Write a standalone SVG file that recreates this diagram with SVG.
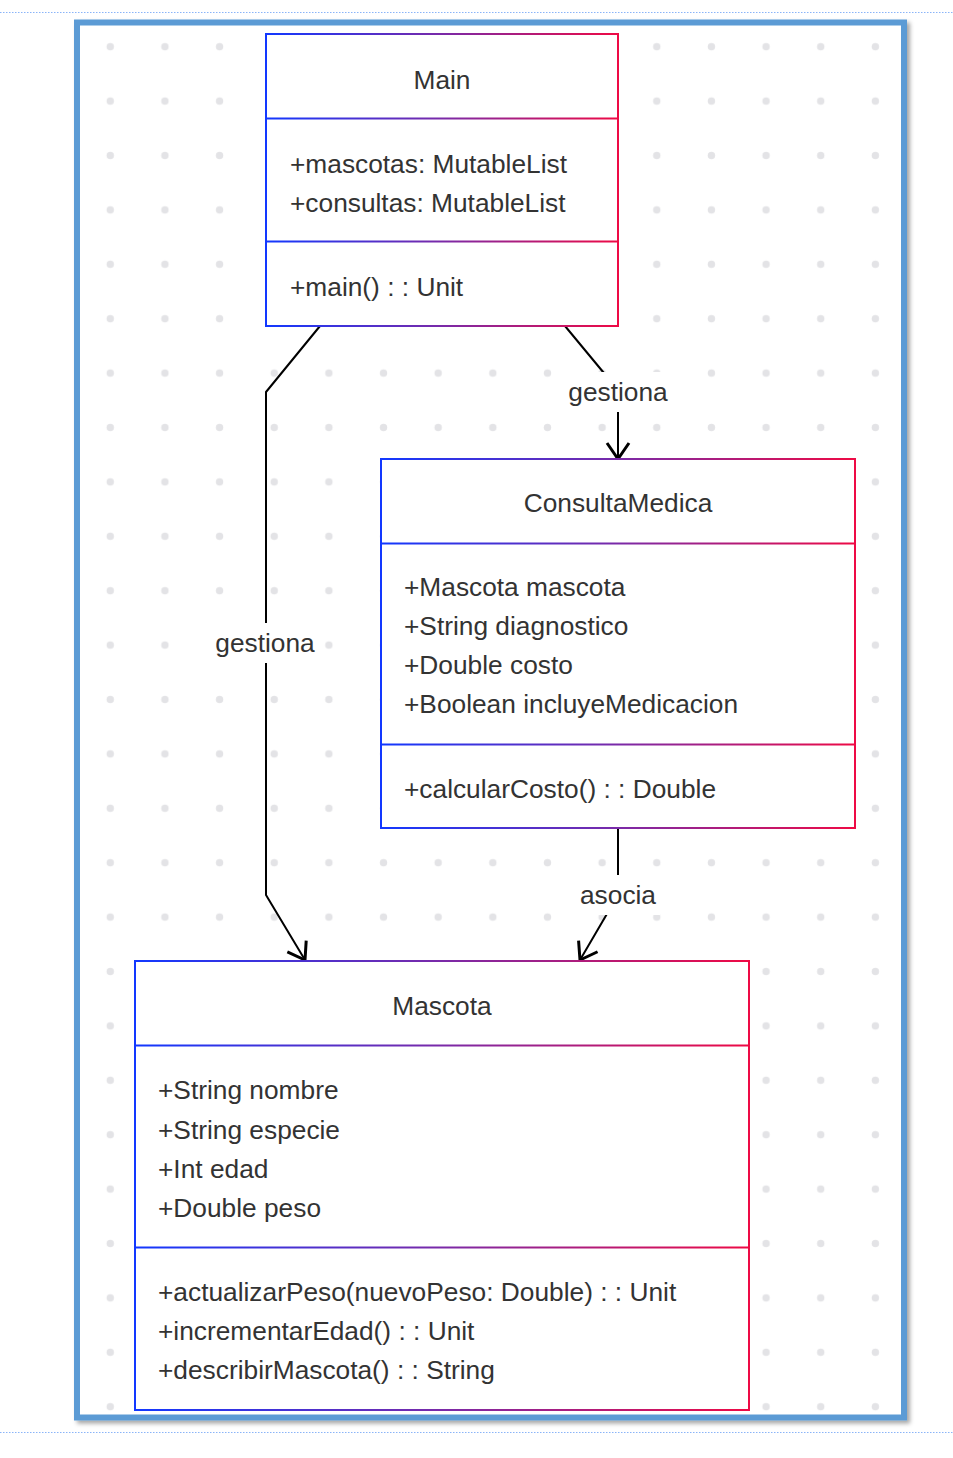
<svg xmlns="http://www.w3.org/2000/svg" width="953" height="1458" viewBox="0 0 953 1458">
<style>
.t{font-family:"Liberation Sans",Arial,sans-serif;font-size:26.3px;fill:#333333}
.c{text-anchor:middle}
.edge{fill:none;stroke:#000000;stroke-width:2;stroke-linejoin:round}
.lbl{fill:#ffffff}
.guide{stroke:#8ab4f8;stroke-width:1;stroke-dasharray:1.5 1.5}
</style>
<defs>
<linearGradient id="gMain" gradientUnits="userSpaceOnUse" x1="266" y1="0" x2="618" y2="0">
<stop offset="0" stop-color="#1238ff"/><stop offset="0.5" stop-color="#7a2aa8"/><stop offset="1" stop-color="#ee0a45"/>
</linearGradient>
<linearGradient id="gCons" gradientUnits="userSpaceOnUse" x1="381" y1="0" x2="855" y2="0">
<stop offset="0" stop-color="#1238ff"/><stop offset="0.5" stop-color="#7a2aa8"/><stop offset="1" stop-color="#ee0a45"/>
</linearGradient>
<linearGradient id="gMasc" gradientUnits="userSpaceOnUse" x1="135" y1="0" x2="749" y2="0">
<stop offset="0" stop-color="#1238ff"/><stop offset="0.5" stop-color="#7a2aa8"/><stop offset="1" stop-color="#ee0a45"/>
</linearGradient>
<pattern id="dots" patternUnits="userSpaceOnUse" x="82.975" y="19.5" width="54.65" height="54.4">
<circle cx="27.325" cy="27.2" r="3.7" fill="#e3e3e6"/>
</pattern>
<filter id="shadow" x="-5%" y="-5%" width="110%" height="110%">
<feDropShadow dx="3" dy="3" stdDeviation="2" flood-color="#000000" flood-opacity="0.35"/>
</filter>
<marker id="arrow" markerUnits="userSpaceOnUse" viewBox="-2 -13 20 26" refX="16" refY="0" markerWidth="20" markerHeight="26" orient="auto">
<path d="M0,-11 L16,0 L0,11" fill="none" stroke="#000000" stroke-width="3" stroke-linejoin="miter"/>
</marker>
</defs>
<rect x="0" y="0" width="953" height="1458" fill="#ffffff"/>
<line class="guide" x1="0" y1="12.5" x2="953" y2="12.5"/>
<line class="guide" x1="0" y1="1432.5" x2="953" y2="1432.5"/>
<g id="frame">
<rect x="77" y="22.5" width="827" height="1395" fill="#ffffff" stroke="#5b9bd5" stroke-width="6" filter="url(#shadow)"/>
<rect x="80" y="25.5" width="821" height="1389" fill="url(#dots)"/>
</g>
<g id="connectors">
<path class="edge" d="M320,326 L266,392 L266,895 L305,960" marker-end="url(#arrow)"/>
<path class="edge" d="M565,326 L618,390 L618,459" marker-end="url(#arrow)"/>
<path class="edge" d="M618,828 L618,895 L580,960" marker-end="url(#arrow)"/>
<rect class="lbl" x="213" y="623" width="104" height="40"/>
<text class="t c" x="265" y="652">gestiona</text>
<rect class="lbl" x="566" y="372" width="104" height="40"/>
<text class="t c" x="618" y="401">gestiona</text>
<rect class="lbl" x="576" y="875" width="84" height="40"/>
<text class="t c" x="618" y="904">asocia</text>
</g>
<g id="Main">
<rect x="266" y="34" width="352" height="292" fill="#ffffff" stroke="url(#gMain)" stroke-width="2"/>
<line x1="266" y1="118.5" x2="618" y2="118.5" stroke="url(#gMain)" stroke-width="2"/>
<line x1="266" y1="241.5" x2="618" y2="241.5" stroke="url(#gMain)" stroke-width="2"/>
<text class="t c" x="442" y="89">Main</text>
<text class="t" x="290" y="173">+mascotas: MutableList</text>
<text class="t" x="290" y="212">+consultas: MutableList</text>
<text class="t" x="290" y="296">+main() : : Unit</text>
</g>
<g id="ConsultaMedica">
<rect x="381" y="459" width="474" height="369" fill="#ffffff" stroke="url(#gCons)" stroke-width="2"/>
<line x1="381" y1="543.5" x2="855" y2="543.5" stroke="url(#gCons)" stroke-width="2"/>
<line x1="381" y1="744.5" x2="855" y2="744.5" stroke="url(#gCons)" stroke-width="2"/>
<text class="t c" x="618" y="512">ConsultaMedica</text>
<text class="t" x="404" y="596">+Mascota mascota</text>
<text class="t" x="404" y="635">+String diagnostico</text>
<text class="t" x="404" y="674">+Double costo</text>
<text class="t" x="404" y="713">+Boolean incluyeMedicacion</text>
<text class="t" x="404" y="798">+calcularCosto() : : Double</text>
</g>
<g id="Mascota">
<rect x="135" y="961" width="614" height="449" fill="#ffffff" stroke="url(#gMasc)" stroke-width="2"/>
<line x1="135" y1="1045.5" x2="749" y2="1045.5" stroke="url(#gMasc)" stroke-width="2"/>
<line x1="135" y1="1247.5" x2="749" y2="1247.5" stroke="url(#gMasc)" stroke-width="2"/>
<text class="t c" x="442" y="1015">Mascota</text>
<text class="t" x="158" y="1099">+String nombre</text>
<text class="t" x="158" y="1139">+String especie</text>
<text class="t" x="158" y="1178">+Int edad</text>
<text class="t" x="158" y="1217">+Double peso</text>
<text class="t" x="158" y="1301">+actualizarPeso(nuevoPeso: Double) : : Unit</text>
<text class="t" x="158" y="1340">+incrementarEdad() : : Unit</text>
<text class="t" x="158" y="1379">+describirMascota() : : String</text>
</g>
</svg>
